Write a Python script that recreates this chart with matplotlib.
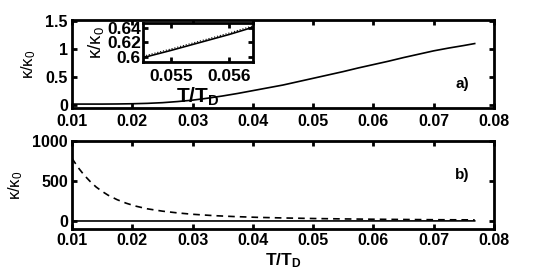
import matplotlib
matplotlib.use("Agg")
import matplotlib.pyplot as plt

plt.rcParams['font.family'] = ['Liberation Sans', 'DejaVu Sans']
plt.rcParams['mathtext.fontset'] = 'custom'
plt.rcParams['mathtext.rm'] = 'Liberation Sans'
plt.rcParams['mathtext.it'] = 'Liberation Sans:italic'
plt.rcParams['mathtext.bf'] = 'Liberation Sans:bold'

# Data
T = [0.0100, 0.0125, 0.0150, 0.0175, 0.0200, 0.0225, 0.0250, 0.0275,
     0.0300, 0.0325, 0.0350, 0.0375, 0.0400, 0.0425, 0.0450, 0.0475,
     0.0500, 0.0525, 0.0550, 0.0575, 0.0600, 0.0625, 0.0650, 0.0675,
     0.0700, 0.0725, 0.0750, 0.0768]
kappa_a = [0.020, 0.020, 0.020, 0.022, 0.026, 0.033, 0.045, 0.065,
           0.090, 0.125, 0.165, 0.210, 0.260, 0.310, 0.360, 0.420,
           0.480, 0.540, 0.600, 0.665, 0.725, 0.785, 0.850, 0.910,
           0.970, 1.020, 1.065, 1.100]

T_inset = [0.05452, 0.0550, 0.0555, 0.0560, 0.05641]
kappa_inset = [0.599, 0.609, 0.620, 0.631, 0.641]
kappa_inset_dot = [0.601, 0.611, 0.622, 0.633, 0.643]

T_b = [0.0100, 0.0110, 0.0120, 0.0130, 0.0140, 0.0150, 0.0160, 0.0175,
       0.0190, 0.0205, 0.0225, 0.0250, 0.0275, 0.0300, 0.0335, 0.0370,
       0.0410, 0.0450, 0.0500, 0.0550, 0.0600, 0.0650, 0.0700, 0.0768]
kappa_b = [783, 670, 575, 495, 425, 370, 322, 266,
           222, 187, 152, 123, 101, 84, 67, 55,
           45, 38, 31, 26, 22, 19, 16, 14]

xticks = [0.01, 0.02, 0.03, 0.04, 0.05, 0.06, 0.07, 0.08]
xticklabels = ['0.01', '0.02', '0.03', '0.04', '0.05', '0.06', '0.07', '0.08']
yticks_a = [0, 0.5, 1, 1.5]
yticklabels_a = ['0', '0.5', '1', '1.5']
yticks_b = [0, 500, 1000]
yticklabels_b = ['0', '500', '1000']
inset_xticks = [0.055, 0.056]
inset_xticklabels = ['0.055', '0.056']
inset_yticks = [0.60, 0.62, 0.64]
inset_yticklabels = ['0.6', '0.62', '0.64']

fig = plt.figure(figsize=(5.45, 2.78), dpi=100)

def style(ax, fs=11.5, lw=2.0, pad=3):
    for s in ax.spines.values():
        s.set_linewidth(lw)
    ax.tick_params(direction='in', top=True, right=True, length=3.5, width=2,
                   labelsize=fs, pad=pad)
    for lab in ax.get_xticklabels() + ax.get_yticklabels():
        lab.set_fontweight('bold')

KLABEL = r'$\mathregular{\kappa/\kappa_0}$'

ax1 = fig.add_axes([0.1321, 0.6115, 0.7743, 0.3165])
ax1.plot(T, kappa_a, color='black', lw=1.2)
ax1.set_xlim(0.01, 0.08)
ax1.set_ylim(-0.05, 1.52)
ax1.set_xticks(xticks)
ax1.set_xticklabels(xticklabels)
ax1.set_yticks(yticks_a)
ax1.set_yticklabels(yticklabels_a)
ax1.set_ylabel(KLABEL, fontsize=12, labelpad=5)
ax1.text(0.925, 0.27, 'a)', transform=ax1.transAxes, fontsize=11,
         fontweight='bold', ha='center', va='center')
style(ax1)
ax1.tick_params(axis='x', pad=4)

ax2 = fig.add_axes([0.1321, 0.1763, 0.7743, 0.3165])
ax2.plot(T, kappa_a, color='black', lw=1.2)
ax2.plot(T_b, kappa_b, color='black', lw=1.2, ls=(0, (4, 3)))
ax2.set_xlim(0.01, 0.08)
ax2.set_ylim(-100, 1000)
ax2.set_xticks(xticks)
ax2.set_xticklabels(xticklabels)
ax2.set_yticks(yticks_b)
ax2.set_yticklabels(yticklabels_b)
ax2.set_ylabel(KLABEL, fontsize=12, labelpad=5)
ax2.set_xlabel(r'$\mathbf{T/T_D}$', fontsize=12.5, labelpad=2)
ax2.text(0.925, 0.61, 'b)', transform=ax2.transAxes, fontsize=11,
         fontweight='bold', ha='center', va='center')
style(ax2)

ax3 = fig.add_axes([0.2624, 0.777, 0.2018, 0.1403])
ax3.plot(T_inset, kappa_inset, color='black', lw=1.2)
ax3.plot(T_inset, kappa_inset_dot, color='black', lw=0.8, ls=':')
ax3.set_xlim(0.05452, 0.05641)
ax3.set_ylim(0.593, 0.6469)
ax3.set_xticks(inset_xticks)
ax3.set_xticklabels(inset_xticklabels)
ax3.set_yticks(inset_yticks)
ax3.set_yticklabels(inset_yticklabels)
ax3.set_xlabel(r'$\mathbf{T/T_D}$', fontsize=15, labelpad=1)
ax3.set_ylabel(KLABEL, fontsize=13.5, labelpad=1)
style(ax3, fs=12.5, pad=5)
ax3.tick_params(axis='y', pad=1.5)

fig.savefig('out.png', dpi=100)
